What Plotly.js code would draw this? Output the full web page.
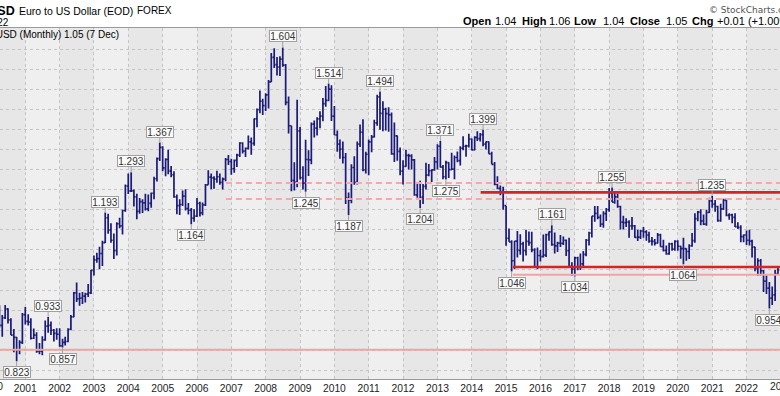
<!DOCTYPE html>
<html><head><meta charset="utf-8">
<script src="https://cdn.plot.ly/plotly-3.0.1.min.js"></script>
<style>html,body{margin:0;padding:0;background:#fff}#chart{width:780px;height:396px}</style>
</head><body><div id="chart"></div>
<script>
// Monthly EUR/USD bars, starting January 2000
const startYear = 2000;
const openVals = [
 1.007,0.971,0.965,0.957,0.912,0.931,0.953,0.926,0.888,0.882,0.851,0.870,
 0.939,0.922,0.920,0.880,0.888,0.847,0.848,0.876,0.910,0.912,0.900,0.892,
 0.890,0.861,0.870,0.872,0.902,0.933,0.993,0.978,0.980,0.985,0.990,0.993,
 1.049,1.075,1.078,1.091,1.118,1.180,1.149,1.124,1.098,1.165,1.160,1.198,
 1.259,1.247,1.247,1.232,1.196,1.220,1.217,1.202,1.216,1.241,1.277,1.327,
 1.355,1.304,1.325,1.296,1.287,1.232,1.210,1.213,1.234,1.203,1.199,1.179,
 1.184,1.216,1.192,1.212,1.262,1.281,1.279,1.276,1.282,1.268,1.276,1.325,
 1.320,1.302,1.323,1.336,1.366,1.346,1.353,1.369,1.365,1.426,1.449,1.470,
 1.459,1.486,1.518,1.579,1.561,1.555,1.575,1.560,1.467,1.409,1.273,1.269,
 1.396,1.280,1.266,1.325,1.324,1.413,1.403,1.426,1.433,1.464,1.472,1.500,
 1.433,1.386,1.363,1.351,1.330,1.229,1.224,1.305,1.268,1.363,1.393,1.299,
 1.338,1.369,1.381,1.416,1.481,1.440,1.450,1.439,1.436,1.339,1.384,1.345,
 1.296,1.308,1.335,1.334,1.324,1.237,1.266,1.231,1.258,1.286,1.297,1.299,
 1.319,1.358,1.306,1.282,1.317,1.300,1.301,1.330,1.322,1.353,1.358,1.359,
 1.376,1.349,1.380,1.377,1.387,1.363,1.369,1.339,1.313,1.263,1.253,1.245,
 1.210,1.129,1.120,1.073,1.122,1.099,1.115,1.098,1.121,1.118,1.100,1.057,
 1.086,1.083,1.087,1.138,1.145,1.113,1.110,1.117,1.116,1.124,1.098,1.059,
 1.052,1.080,1.058,1.065,1.089,1.124,1.142,1.184,1.191,1.181,1.164,1.190,
 1.200,1.241,1.219,1.232,1.208,1.169,1.168,1.169,1.160,1.160,1.131,1.132,
 1.147,1.145,1.137,1.122,1.121,1.117,1.137,1.108,1.099,1.090,1.115,1.102,
 1.121,1.109,1.103,1.103,1.096,1.110,1.123,1.178,1.194,1.172,1.164,1.193,
 1.222,1.214,1.208,1.173,1.202,1.223,1.186,1.187,1.181,1.158,1.156,1.133,
 1.137,1.124,1.122,1.107,1.054,1.073,1.048,1.022,1.005,0.980,0.988,1.040
];
const highVals = [
 1.035,0.994,0.978,0.962,0.938,0.963,0.955,0.930,0.903,0.883,0.875,0.943,
 0.958,0.940,0.930,0.904,0.895,0.868,0.885,0.924,0.933,0.922,0.903,0.905,
 0.905,0.879,0.884,0.905,0.938,0.995,1.019,0.993,0.995,0.993,1.015,1.050,
 1.086,1.093,1.108,1.123,1.193,1.190,1.166,1.141,1.169,1.180,1.200,1.263,
 1.290,1.293,1.250,1.240,1.229,1.226,1.240,1.238,1.243,1.282,1.330,1.367,
 1.358,1.328,1.349,1.309,1.296,1.238,1.226,1.248,1.251,1.217,1.204,1.201,
 1.229,1.220,1.218,1.264,1.298,1.290,1.283,1.297,1.290,1.280,1.329,1.336,
 1.327,1.325,1.339,1.368,1.368,1.355,1.385,1.380,1.427,1.452,1.497,1.476,
 1.490,1.523,1.590,1.602,1.580,1.582,1.604,1.563,1.482,1.409,1.318,1.474,
 1.406,1.308,1.374,1.348,1.417,1.422,1.430,1.445,1.478,1.508,1.514,1.510,
 1.458,1.397,1.375,1.370,1.341,1.243,1.313,1.333,1.370,1.412,1.425,1.344,
 1.375,1.386,1.424,1.486,1.494,1.470,1.454,1.455,1.442,1.417,1.385,1.355,
 1.323,1.349,1.339,1.338,1.326,1.269,1.272,1.264,1.317,1.314,1.301,1.331,
 1.363,1.371,1.311,1.322,1.318,1.342,1.335,1.345,1.358,1.383,1.362,1.389,
 1.377,1.383,1.395,1.391,1.399,1.370,1.370,1.344,1.319,1.283,1.260,1.257,
 1.210,1.153,1.124,1.122,1.147,1.139,1.120,1.150,1.146,1.145,1.104,1.106,
 1.100,1.138,1.140,1.146,1.161,1.143,1.120,1.137,1.133,1.126,1.130,1.069,
 1.083,1.083,1.091,1.097,1.127,1.145,1.184,1.209,1.209,1.188,1.196,1.204,
 1.254,1.255,1.245,1.240,1.210,1.185,1.179,1.174,1.182,1.162,1.150,1.150,
 1.157,1.149,1.145,1.132,1.127,1.142,1.140,1.125,1.111,1.118,1.118,1.124,
 1.124,1.110,1.130,1.104,1.114,1.142,1.191,1.197,1.201,1.188,1.200,1.230,
 1.235,1.224,1.210,1.215,1.227,1.228,1.191,1.190,1.191,1.169,1.161,1.138,
 1.148,1.150,1.125,1.108,1.079,1.077,1.050,1.037,1.020,1.009,1.050,1.060
];
const lowVals = [
 0.970,0.957,0.952,0.906,0.884,0.928,0.917,0.888,0.845,0.823,0.840,0.866,
 0.914,0.912,0.877,0.878,0.844,0.840,0.838,0.874,0.894,0.888,0.872,0.876,
 0.859,0.857,0.862,0.870,0.900,0.932,0.970,0.961,0.965,0.969,0.983,0.990,
 1.036,1.068,1.052,1.060,1.117,1.140,1.118,1.077,1.086,1.154,1.138,1.195,
 1.239,1.244,1.208,1.176,1.190,1.192,1.198,1.196,1.205,1.226,1.270,1.321,
 1.296,1.283,1.288,1.281,1.230,1.189,1.187,1.209,1.198,1.188,1.164,1.170,
 1.182,1.183,1.186,1.209,1.262,1.251,1.252,1.267,1.262,1.250,1.271,1.311,
 1.287,1.292,1.306,1.331,1.340,1.331,1.350,1.337,1.359,1.405,1.440,1.436,
 1.446,1.452,1.518,1.553,1.534,1.533,1.556,1.460,1.390,1.246,1.248,1.256,
 1.275,1.250,1.245,1.284,1.313,1.380,1.385,1.403,1.420,1.456,1.470,1.421,
 1.386,1.344,1.327,1.315,1.214,1.187,1.216,1.262,1.263,1.356,1.296,1.290,
 1.286,1.343,1.380,1.409,1.399,1.395,1.397,1.394,1.337,1.319,1.322,1.286,
 1.263,1.307,1.300,1.300,1.235,1.230,1.204,1.214,1.250,1.283,1.269,1.297,
 1.300,1.305,1.276,1.275,1.279,1.299,1.276,1.318,1.310,1.348,1.332,1.355,
 1.348,1.348,1.371,1.370,1.358,1.350,1.339,1.313,1.261,1.251,1.236,1.200,
 1.110,1.120,1.046,1.052,1.081,1.088,1.071,1.086,1.110,1.094,1.055,1.052,
 1.071,1.081,1.082,1.123,1.110,1.091,1.095,1.107,1.112,1.085,1.055,1.035,
 1.034,1.049,1.050,1.057,1.084,1.111,1.131,1.170,1.176,1.157,1.155,1.172,
 1.195,1.219,1.215,1.205,1.151,1.151,1.157,1.130,1.150,1.130,1.122,1.127,
 1.130,1.123,1.118,1.111,1.111,1.116,1.108,1.096,1.088,1.088,1.098,1.098,
 1.098,1.078,1.064,1.073,1.077,1.108,1.118,1.171,1.161,1.162,1.160,1.192,
 1.205,1.195,1.170,1.170,1.199,1.184,1.175,1.166,1.157,1.152,1.119,1.119,
 1.112,1.111,1.081,1.047,1.035,1.036,0.995,0.990,0.954,0.963,0.973,1.040
];
const closeVals = [
 0.971,0.965,0.957,0.912,0.931,0.953,0.926,0.888,0.882,0.851,0.870,0.939,
 0.922,0.920,0.880,0.888,0.847,0.848,0.876,0.910,0.912,0.900,0.892,0.890,
 0.861,0.870,0.872,0.902,0.933,0.993,0.978,0.980,0.985,0.990,0.993,1.049,
 1.075,1.078,1.091,1.118,1.180,1.149,1.124,1.098,1.165,1.160,1.198,1.259,
 1.247,1.247,1.232,1.196,1.220,1.217,1.202,1.216,1.241,1.277,1.327,1.355,
 1.304,1.325,1.296,1.287,1.232,1.210,1.213,1.234,1.203,1.199,1.179,1.184,
 1.216,1.192,1.212,1.262,1.281,1.279,1.276,1.282,1.268,1.276,1.325,1.320,
 1.302,1.323,1.336,1.366,1.346,1.353,1.369,1.365,1.426,1.449,1.470,1.459,
 1.486,1.518,1.579,1.561,1.555,1.575,1.560,1.467,1.409,1.273,1.269,1.396,
 1.280,1.266,1.325,1.324,1.413,1.403,1.426,1.433,1.464,1.472,1.500,1.433,
 1.386,1.363,1.351,1.330,1.229,1.224,1.305,1.268,1.363,1.393,1.299,1.338,
 1.369,1.381,1.416,1.481,1.440,1.450,1.439,1.436,1.339,1.384,1.345,1.296,
 1.308,1.335,1.334,1.324,1.237,1.266,1.231,1.258,1.286,1.297,1.299,1.319,
 1.358,1.306,1.282,1.317,1.300,1.301,1.330,1.322,1.353,1.358,1.359,1.376,
 1.349,1.380,1.377,1.387,1.363,1.369,1.339,1.313,1.263,1.253,1.245,1.210,
 1.129,1.120,1.073,1.122,1.099,1.115,1.098,1.121,1.118,1.100,1.057,1.086,
 1.083,1.087,1.138,1.145,1.113,1.110,1.117,1.116,1.124,1.098,1.059,1.052,
 1.080,1.058,1.065,1.089,1.124,1.142,1.184,1.191,1.181,1.164,1.190,1.200,
 1.241,1.219,1.232,1.208,1.169,1.168,1.169,1.160,1.160,1.131,1.132,1.147,
 1.145,1.137,1.122,1.121,1.117,1.137,1.108,1.099,1.090,1.115,1.102,1.121,
 1.109,1.103,1.103,1.096,1.110,1.123,1.178,1.194,1.172,1.164,1.193,1.222,
 1.214,1.208,1.173,1.202,1.223,1.186,1.187,1.181,1.158,1.156,1.133,1.137,
 1.124,1.122,1.107,1.054,1.073,1.048,1.022,1.005,0.980,0.988,1.041,1.050
];

// Year tick labels
const yearTicks = ['2001','2002','2003','2004','2005','2006','2007','2008','2009','2010','2011','2012',
                   '2013','2014','2015','2016','2017','2018','2019','2020','2021','2022'];

// Labelled pivots
const pivotDates  = ['2000-10-01','2001-09-01','2002-02-01','2003-05-01','2004-02-01','2004-12-01','2005-11-01',
                     '2008-07-01','2009-03-01','2009-11-01','2010-06-01','2011-05-01','2012-07-01','2013-02-01',
                     '2013-04-01','2014-05-01','2015-03-01','2016-05-01','2017-01-01','2018-02-01','2020-03-01',
                     '2021-01-01','2022-09-01'];
const pivotValues = [0.823,0.933,0.857,1.193,1.293,1.367,1.164,
                     1.604,1.245,1.514,1.187,1.494,1.204,1.371,
                     1.275,1.399,1.046,1.161,1.034,1.255,1.064,
                     1.235,0.954];
const pivotSides  = ['low','high','low','high','high','high','low',
                     'high','low','high','low','high','low','high',
                     'low','high','low','high','low','high','low',
                     'high','low'];

// Header quote line
const quoteLabels = ['Open','High','Low','Close','Chg'];
const quoteValues = ['1.04','1.06','1.04','1.05','+0.01 (+1.00%)'];

// Drawn support / resistance levels
const dashedLevels = [1.2665, 1.2267];
const dashedStart = '2006-11-04';
const redLevels = [1.2431, 1.0574];
const redStarts = ['2014-04-05', '2015-03-15'];
const pinkLevels = [1.0382, 0.8515];
const pinkStarts = ['2015-03-15', '2000-01-01'];

const months = openVals.map((_, i) => {
  const y = startYear + Math.floor(i / 12), m = i % 12 + 1;
  return y + '-' + String(m).padStart(2, '0') + '-01';
});

const xStart = '2000-04-07', xEnd = '2022-12-23';
const W = 780, plotTop = 28, plotBot = 379, PH = plotBot - plotTop;
const py = p => (plotBot - p) / PH;   // pixel y -> paper y
const px = p => p / W;                // pixel x -> paper x
const FONT = 'Liberation Sans, Arial, sans-serif';

const trace = {
  type: 'ohlc', x: months, open: openVals, high: highVals, low: lowVals, close: closeVals,
  increasing: {line: {color: '#1a1a78', width: 1.7}},
  decreasing: {line: {color: '#1a1a78', width: 1.7}},
  tickwidth: 0.5, hoverinfo: 'skip', showlegend: false
};

const shapes = [];
// alternating yearly shading
for (let y = 2000; y <= 2022; y++) {
  if (y % 2 === 0) shapes.push({type: 'rect', xref: 'x', yref: 'paper', x0: y + '-01-01', x1: (y + 1) + '-01-01',
    y0: 0, y1: 1, fillcolor: '#e7e7e7', line: {width: 0}, layer: 'below'});
}
dashedLevels.forEach(v => shapes.push({type: 'line', xref: 'x', yref: 'y', x0: dashedStart, x1: xEnd, y0: v, y1: v,
  line: {color: '#f2a9a9', width: 2, dash: '6px,4px'}}));
pinkLevels.forEach((v, i) => shapes.push({type: 'line', xref: 'x', yref: 'y', x0: pinkStarts[i] < xStart ? xStart : pinkStarts[i], x1: xEnd, y0: v, y1: v,
  line: {color: '#f0a4a4', width: 2}}));
redLevels.forEach((v, i) => shapes.push({type: 'line', xref: 'x', yref: 'y', x0: redStarts[i], x1: xEnd, y0: v, y1: v,
  line: {color: '#d42424', width: 2.6}}));

const annotations = pivotDates.map((d, i) => ({
  x: d, y: pivotValues[i], xref: 'x', yref: 'y', text: pivotValues[i].toFixed(3),
  showarrow: true, arrowhead: 0, arrowwidth: 1, arrowcolor: '#a0a0a0', ax: 0, ay: pivotSides[i] === 'high' ? -11 : 11,
  bgcolor: '#fbfbfb', bordercolor: '#a0a0a0', borderwidth: 1, borderpad: 0, width: 26, height: 10,
  font: {family: FONT, size: 10, color: '#333'}
}));

const hdr = (text, x, y, anchor, size, color, family) => ({
  text, xref: 'paper', yref: 'paper', x: px(x), y: py(y), xanchor: anchor, yanchor: 'middle',
  showarrow: false, borderpad: 0, font: {family: family || FONT, size, color: color || '#000'}
});

annotations.push(
  hdr('<b>$EURUSD</b>', 16, 10.5, 'right', 12.5),
  hdr('Euro to US Dollar (EOD)', 18, 10.5, 'left', 10.5),
  hdr('FOREX', 136, 10.5, 'left', 10),
  hdr('7-Dec-2022', 10, 22, 'right', 10),
  hdr('© StockCharts.com', 708, 10, 'left', 9, '#555', 'DejaVu Sans, Verdana, sans-serif'),
  hdr('$EURUSD (Monthly) 1.05 (7 Dec)', 120, 34.5, 'right', 10),
  hdr('2000', -9, 386.5, 'center', 10.3, '#222'),
  hdr('2023', 781, 386.5, 'center', 10.3, '#222')
);
// quote line pieces (label bold, value regular)
const quoteLabelX = [462, 521, 573, 629, 691];
const quoteValueX = [494, 548, 602, 665, 716];
quoteLabels.forEach((t, i) => {
  annotations.push(hdr('<b>' + t + '</b>', quoteLabelX[i], 21.5, 'left', 11));
  annotations.push(hdr(quoteValues[i], quoteValueX[i], 21.5, 'left', 11));
});

const layout = {
  width: 780, height: 396,
  margin: {l: 0, r: 0, t: plotTop, b: 396 - plotBot, autoexpand: false},
  paper_bgcolor: '#ffffff', plot_bgcolor: '#efefef',
  showlegend: false, hovermode: false, dragmode: false,
  xaxis: {
    type: 'date', range: [xStart, xEnd], rangeslider: {visible: false},
    tickvals: yearTicks.map(y => y + '-01-01'), ticktext: yearTicks,
    tickfont: {family: FONT, size: 10.3, color: '#222'}, ticks: '', ticklen: 0,
    showgrid: true, gridcolor: '#c4c4c4', griddash: 'dot', gridwidth: 1,
    showline: true, linecolor: '#9a9a9a', linewidth: 1, mirror: true, zeroline: false,
    automargin: false, fixedrange: true
  },
  yaxis: {
    range: [0.7786, 1.6523], dtick: 0.05, tick0: 0,
    showticklabels: false, ticks: '', showgrid: true, gridcolor: '#c4c4c4', griddash: 'dot', gridwidth: 1,
    showline: false, zeroline: false, automargin: false, fixedrange: true
  },
  shapes, annotations
};

Plotly.newPlot('chart', [trace], layout, {staticPlot: true, displayModeBar: false});
</script></body></html>
